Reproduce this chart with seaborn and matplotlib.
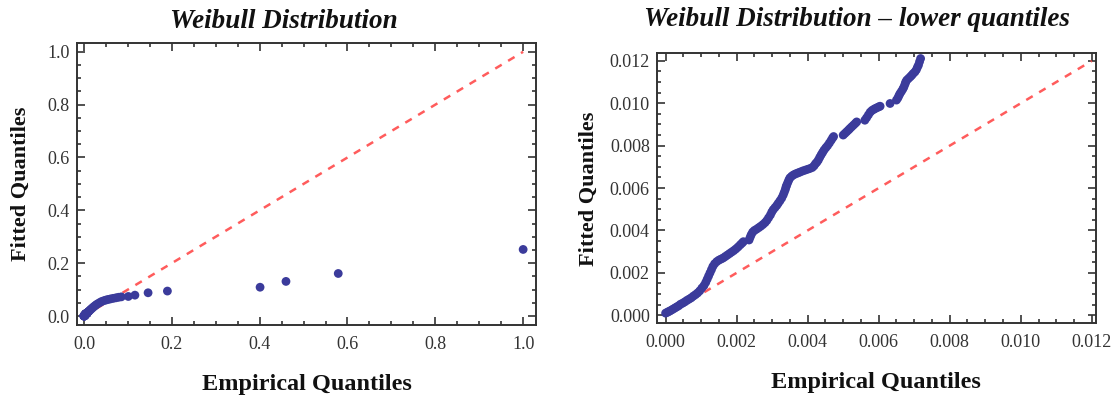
import matplotlib
matplotlib.use("Agg")
import matplotlib.pyplot as plt
import seaborn as sns
import numpy as np
import pandas as pd
from matplotlib.ticker import MultipleLocator, FormatStrFormatter

# ---------------- data ----------------
# lower quantiles (right panel), empirical x vs fitted y
low_emp = [
    0.00000, 0.00004, 0.00008, 0.00012, 0.00017, 0.00022, 0.00027, 0.00032, 0.00037,
    0.00042, 0.00048, 0.00054, 0.00060, 0.00066, 0.00072, 0.00078, 0.00084, 0.00090,
    0.00096, 0.00102, 0.00108, 0.00113, 0.00117, 0.00121, 0.00125, 0.00129, 0.00133,
    0.00138, 0.00144, 0.00150, 0.00156, 0.00162, 0.00168, 0.00174, 0.00180, 0.00186,
    0.00192, 0.00198, 0.00204, 0.00210, 0.00215, 0.00219,
    0.00235, 0.00238, 0.00241, 0.00245, 0.00250, 0.00256, 0.00262, 0.00268, 0.00274,
    0.00280, 0.00285, 0.00290, 0.00295, 0.00299, 0.00303, 0.00308, 0.00313, 0.00317,
    0.00322, 0.00327, 0.00331, 0.00334, 0.00337, 0.00339, 0.00341,
    0.00344, 0.00347, 0.00350, 0.00355, 0.00360, 0.00366, 0.00372, 0.00378, 0.00385,
    0.00392, 0.00399, 0.00406, 0.00413, 0.00418, 0.00422, 0.00426, 0.00430, 0.00434,
    0.00438, 0.00442, 0.00446, 0.00451, 0.00456, 0.00461, 0.00466, 0.00470, 0.00473,
    0.00500, 0.00505, 0.00510, 0.00515, 0.00519, 0.00524, 0.00529, 0.00534, 0.00538,
    0.00561, 0.00566, 0.00571, 0.00576, 0.00581, 0.00586, 0.00590, 0.00595, 0.00600, 0.00604,
    0.00632,
    0.00650, 0.00654, 0.00657, 0.00660, 0.00664, 0.00668, 0.00671, 0.00674, 0.00676,
    0.00679, 0.00684, 0.00689, 0.00693, 0.00697, 0.00702, 0.00706, 0.00709, 0.00712,
    0.00715, 0.00718,
]
low_fit = [
    0.00010, 0.00013, 0.00017, 0.00020, 0.00025, 0.00030, 0.00035, 0.00040, 0.00045,
    0.00052, 0.00057, 0.00063, 0.00070, 0.00076, 0.00082, 0.00090, 0.00097, 0.00105,
    0.00115, 0.00128, 0.00140, 0.00155, 0.00170, 0.00185, 0.00200, 0.00215, 0.00230,
    0.00243, 0.00253, 0.00260, 0.00265, 0.00270, 0.00277, 0.00284, 0.00291, 0.00298,
    0.00305, 0.00313, 0.00322, 0.00332, 0.00340, 0.00347,
    0.00355, 0.00368, 0.00380, 0.00392, 0.00400, 0.00406, 0.00413, 0.00420, 0.00428,
    0.00437, 0.00447, 0.00460, 0.00473, 0.00487, 0.00498, 0.00508, 0.00518, 0.00528,
    0.00540, 0.00553, 0.00567, 0.00580, 0.00593, 0.00605, 0.00614,
    0.00626, 0.00638, 0.00648, 0.00656, 0.00662, 0.00667, 0.00671, 0.00675, 0.00680,
    0.00684, 0.00688, 0.00692, 0.00697, 0.00705, 0.00715, 0.00722, 0.00732, 0.00745,
    0.00757, 0.00768, 0.00779, 0.00790, 0.00800, 0.00812, 0.00825, 0.00836, 0.00843,
    0.00850, 0.00858, 0.00866, 0.00874, 0.00881, 0.00889, 0.00897, 0.00905, 0.00912,
    0.00920, 0.00932, 0.00945, 0.00958, 0.00966, 0.00971, 0.00975, 0.00979, 0.00983, 0.00986,
    0.00999,
    0.01015, 0.01025, 0.01036, 0.01046, 0.01056, 0.01067, 0.01077, 0.01090, 0.01100,
    0.01109, 0.01117, 0.01125, 0.01132, 0.01140, 0.01148, 0.01158, 0.01170, 0.01180,
    0.01196, 0.01211,
]
# remaining quantiles (left panel adds these beyond the lower ones)
upper_emp = [0.0080, 0.0095, 0.0110, 0.0130, 0.0150, 0.0175, 0.0200, 0.0230, 0.0260,
             0.0290, 0.0330, 0.0370, 0.0410, 0.0460, 0.0510, 0.0560, 0.0610, 0.0670,
             0.0730, 0.0790, 0.0850, 0.101, 0.116, 0.146, 0.190, 0.401, 0.460, 0.579, 1.000]
upper_fit = [0.0130, 0.0155, 0.0180, 0.0210, 0.0245, 0.0280, 0.0320, 0.0360, 0.0400,
             0.0440, 0.0480, 0.0520, 0.0555, 0.0585, 0.0610, 0.0630, 0.0650, 0.0670,
             0.0690, 0.0710, 0.0725, 0.0740, 0.0790, 0.0880, 0.0945, 0.109, 0.131, 0.161, 0.252]

diag_full = [0.0, 1.0]
diag_low = [0.0, 0.012]

titles = ["Weibull Distribution", "Weibull Distribution \u2013 lower quantiles"]
xlabel = "Empirical Quantiles"
ylabel = "Fitted Quantiles"

# ---------------- styling ----------------
sns.set_theme(style="white")
plt.rcParams["font.family"] = ["Liberation Serif", "DejaVu Serif"]

DOT = "#3b3b9b"
RED = "#ff4a4a"
FRAME = "#333333"

fig = plt.figure(figsize=(11.15, 3.98), dpi=100)
ax1 = fig.add_axes([0.069, 0.1834, 0.412, 0.709])
ax2 = fig.add_axes([0.589, 0.1877, 0.394, 0.678])

df_all = pd.DataFrame({"emp": low_emp + upper_emp, "fit": low_fit + upper_fit})
df_low = pd.DataFrame({"emp": low_emp, "fit": low_fit})


def draw(ax, df, diag, xlim, ylim, major, minor, fmt, ylabelpad):
    sns.lineplot(x=diag, y=diag, ax=ax, color=RED, lw=1.8, alpha=0.9, zorder=2)
    ax.lines[-1].set_linestyle((0, (3, 3)))
    sns.scatterplot(data=df, x="emp", y="fit", ax=ax, color=DOT, s=40,
                    edgecolor="none", zorder=3)
    ax.set_xlim(*xlim)
    ax.set_ylim(*ylim)
    ax.xaxis.set_major_locator(MultipleLocator(major))
    ax.xaxis.set_minor_locator(MultipleLocator(minor))
    ax.yaxis.set_major_locator(MultipleLocator(major))
    ax.yaxis.set_minor_locator(MultipleLocator(minor))
    ax.xaxis.set_major_formatter(FormatStrFormatter(fmt))
    ax.yaxis.set_major_formatter(FormatStrFormatter(fmt))
    ax.tick_params(which="both", direction="in", top=True, right=True,
                   bottom=True, left=True, color=FRAME, width=1.2,
                   labelsize=13, labelcolor="#333333")
    ax.tick_params(axis="x", which="major", pad=8)
    ax.tick_params(axis="y", which="major", pad=5)
    ax.tick_params(which="major", length=5.5)
    ax.tick_params(which="minor", length=3)
    for sp in ax.spines.values():
        sp.set_color(FRAME)
        sp.set_linewidth(1.4)
    ax.set_xlabel(xlabel, fontsize=17.5, fontweight="bold", labelpad=15, color="#111111")
    ax.set_ylabel(ylabel, fontsize=16, fontweight="bold", labelpad=ylabelpad,
                  color="#111111")
    ax.grid(False)


draw(ax1, df_all, diag_full, (-0.016, 1.03), (-0.034, 1.034), 0.2, 0.05, "%.1f", 12)
draw(ax2, df_low, diag_low, (-0.00025, 0.01212), (-0.00038, 0.01235), 0.002, 0.0005,
     "%.3f", 8)

fig.text(284 / 1115, 1 - 21 / 398, titles[0], fontsize=19.5, fontweight="bold",
         style="italic", ha="center", va="center", color="#111111")
fig.text(857 / 1115, 1 - 20 / 398, titles[1], fontsize=19.5, fontweight="bold",
         style="italic", ha="center", va="center", color="#111111")

fig.savefig("out.png", dpi=100)
